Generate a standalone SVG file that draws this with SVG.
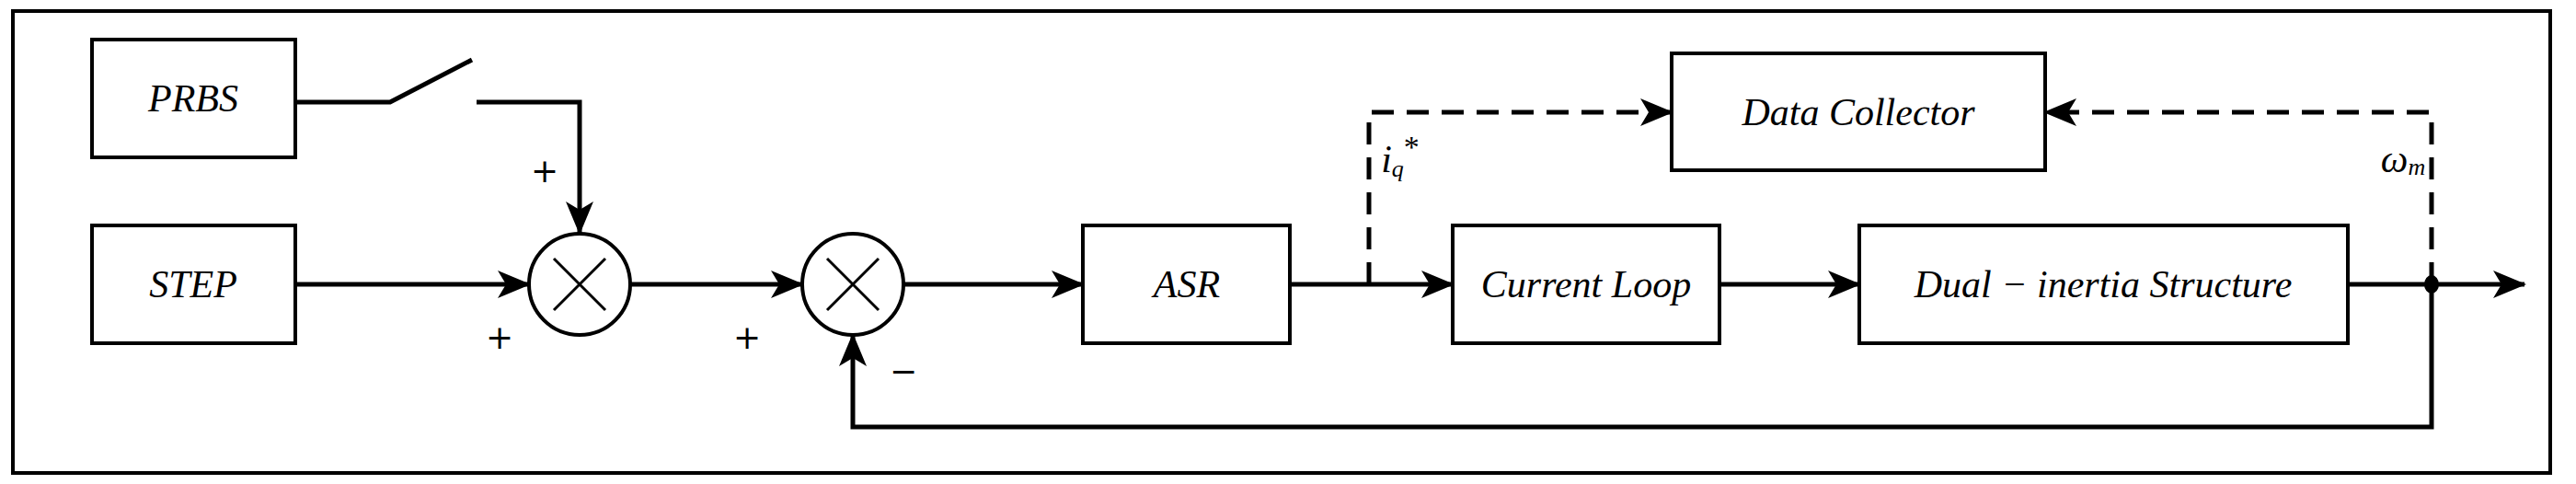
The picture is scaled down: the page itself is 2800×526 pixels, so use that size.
<svg xmlns="http://www.w3.org/2000/svg" width="2800" height="526" viewBox="0 0 2800 526">
<style>
.box{fill:#fff;stroke:#000;stroke-width:4}
.ln{fill:none;stroke:#000;stroke-width:5}
.dash{fill:none;stroke:#000;stroke-width:5;stroke-dasharray:24 14}
.t{font-family:'Liberation Serif','DejaVu Serif',serif;font-style:italic;font-size:42px;text-anchor:middle;dominant-baseline:central}
.s{font-family:'DejaVu Sans',sans-serif;font-size:36px;text-anchor:middle;dominant-baseline:central}
</style>
<defs>
<marker id="ar" viewBox="0 0 36 30" refX="34" refY="15" markerWidth="36" markerHeight="30" markerUnits="userSpaceOnUse" orient="auto">
<path d="M0,0 L36,15 L0,30 L9,15 Z" fill="#000"/>
</marker>
</defs>
<rect x="14" y="12" width="2758" height="502" fill="none" stroke="#000" stroke-width="4"/>
<g id="prbs"><rect class="box" x="100" y="43" width="221" height="128"/><text class="t" x="210" y="107">PRBS</text></g>
<g id="step"><rect class="box" x="100" y="245" width="221" height="128"/><text class="t" x="210" y="309">STEP</text></g>
<g id="sum1"><circle cx="630" cy="309" r="55" fill="#fff" stroke="#000" stroke-width="4"/><path d="M602,281 L658,337 M658,281 L602,337" stroke="#000" stroke-width="3"/></g>
<g id="sum2"><circle cx="927" cy="309" r="55" fill="#fff" stroke="#000" stroke-width="4"/><path d="M899,281 L955,337 M955,281 L899,337" stroke="#000" stroke-width="3"/></g>
<g id="asr"><rect class="box" x="1177" y="245" width="225" height="128"/><text class="t" x="1290" y="309">ASR</text></g>
<g id="current"><rect class="box" x="1579" y="245" width="290" height="128"/><text class="t" x="1724" y="309">Current Loop</text></g>
<g id="dual"><rect class="box" x="2021" y="245" width="531" height="128"/><text class="t" x="2286" y="309">Dual − inertia Structure</text></g>
<g id="collector"><rect class="box" x="1817" y="58" width="406" height="127"/><text class="t" x="2020" y="122">Data Collector</text></g>
<g id="connectors">
<path class="ln" d="M321,111 H424 L513,65"/>
<path class="ln" d="M518,111 H630 V253" marker-end="url(#ar)"/>
<path class="ln" d="M321,309 H575" marker-end="url(#ar)"/>
<path class="ln" d="M685,309 H872" marker-end="url(#ar)"/>
<path class="ln" d="M982,309 H1177" marker-end="url(#ar)"/>
<path class="ln" d="M1402,309 H1579" marker-end="url(#ar)"/>
<path class="ln" d="M1869,309 H2021" marker-end="url(#ar)"/>
<path class="ln" d="M2552,309 H2744" marker-end="url(#ar)"/>
<path class="ln" d="M2643,309 V464 H927 V364" marker-end="url(#ar)"/>
<path class="dash" d="M1488,309 V122 H1817" marker-end="url(#ar)"/>
<path class="dash" d="M2643,309 V122 H2223" marker-end="url(#ar)"/>
<ellipse cx="2643" cy="309" rx="8" ry="10" fill="#000"/>
</g>
<text class="s" x="592" y="185">+</text>
<text class="s" x="543" y="366">+</text>
<text class="s" x="812" y="366">+</text>
<text class="s" x="982" y="403">−</text>
<text class="t" x="1522" y="173">i<tspan font-size="26" dy="10">q</tspan><tspan font-size="34" dy="-24" font-style="normal">*</tspan></text>
<text class="t" x="2612" y="173">ω<tspan font-size="26" dy="8">m</tspan></text>
</svg>
